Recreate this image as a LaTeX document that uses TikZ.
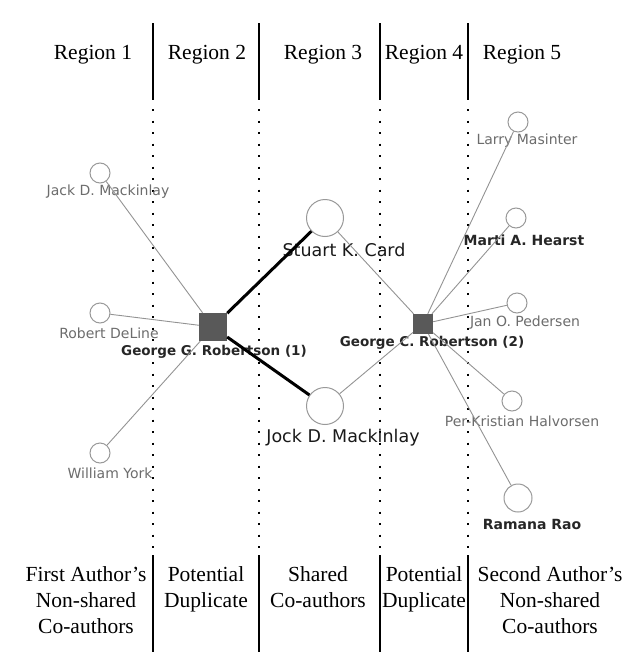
\documentclass[tikz,border=0pt]{standalone}
\usepackage{fontspec}
\setmainfont{Liberation Serif}
\setsansfont{DejaVu Sans}
\begin{document}
\begin{tikzpicture}[x=1pt, y=-1pt,
    region/.style={font=\fontsize{21.5}{26}\selectfont, align=center},
    author/.style={circle, draw=gray!80, fill=white, line width=1pt, inner sep=0pt},
    dupe/.style={rectangle, fill=black!65, inner sep=0pt},
    coname/.style={font=\sffamily\fontsize{14}{16}\selectfont, text=gray!85!black},
    boldname/.style={font=\sffamily\bfseries\fontsize{14}{16}\selectfont, text=black!85},
    dupename/.style={font=\sffamily\bfseries\fontsize{13.5}{16}\selectfont, text=black!85},
    bigname/.style={font=\sffamily\fontsize{17.5}{20}\selectfont, text=black!90},
    link/.style={gray!85, line width=0.9pt},
    shared/.style={black, line width=3pt},
    divider/.style={black, line width=2pt},
    dots/.style={black, line width=2pt, dash pattern=on 2pt off 9.5pt}]
    \useasboundingbox (0,0) rectangle (631,656);

    % Region labels on top
    \node[region] (reg1) at (93,55) {Region 1};
    \node[region] (reg2) at (207,55) {Region 2};
    \node[region] (reg3) at (323,55) {Region 3};
    \node[region] (reg4) at (424,55) {Region 4};
    \node[region] (reg5) at (522,55) {Region 5};

    % Region descriptions at the bottom
    \node[region, anchor=north] (desc1) at (86,563) {First Author's\\Non-shared\\Co-authors};
    \node[region, anchor=north] (desc2) at (206,563) {Potential\\Duplicate};
    \node[region, anchor=north] (desc3) at (318,563) {Shared\\Co-authors};
    \node[region, anchor=north] (desc4) at (424,563) {Potential\\Duplicate};
    \node[region, anchor=north] (desc5) at (550,563) {Second Author's\\Non-shared\\Co-authors};

    % Region separators
    \foreach \x in {153,259,380,468} {
        \draw[divider] (\x,23) -- (\x,100);
        \draw[dots] (\x,109) -- (\x,550);
        \draw[divider] (\x,555) -- (\x,652);
    }

    % Duplicate candidates
    \node[dupe, minimum size=28pt] (george1) at (213,327) {};
    \node[dupe, minimum size=20pt] (george2) at (423,324) {};
    \node[dupename] (george1L) at (214,352) {George G. Robertson (1)};
    \node[dupename] (george2L) at (432,343) {George C. Robertson (2)};

    % First author's co-authors
    \node[author, minimum size=20pt] (jack) at (100,173) {};
    \node[author, minimum size=20pt] (robert) at (100,313) {};
    \node[author, minimum size=20pt] (william) at (100,453) {};
    \node[coname] (jackL) at (108,192) {Jack D. Mackinlay};
    \node[coname] (robertL) at (109,333) {Robert DeLine};
    \node[coname] (williamL) at (110,473) {William York};

    % Shared co-authors
    \node[author, minimum size=37pt] (stuart) at (325,218) {};
    \node[author, minimum size=37pt] (jock) at (325,406) {};
    \node[bigname] (stuartL) at (344,250) {Stuart K. Card};
    \node[bigname] (jockL) at (343,438) {Jock D. Mackinlay};

    % Second author's co-authors
    \node[author, minimum size=20pt] (larry) at (518,122) {};
    \node[author, minimum size=20pt] (marti) at (516,218) {};
    \node[author, minimum size=20pt] (jan) at (517,303) {};
    \node[author, minimum size=20pt] (per) at (512,401) {};
    \node[author, minimum size=28pt] (ramana) at (518,498) {};
    \node[coname] (larryL) at (527,141) {Larry Masinter};
    \node[boldname] (martiL) at (524,240) {Marti A. Hearst};
    \node[coname] (janL) at (525,323) {Jan O. Pedersen};
    \node[coname] (perL) at (522,421) {Per-Kristian Halvorsen};
    \node[boldname] (ramanaL) at (532,524) {Ramana Rao};

    % Co-author links
    \draw[link] (george1) -- (jack);
    \draw[link] (george1) -- (robert);
    \draw[link] (george1) -- (william);
    \draw[shared] (george1) -- (stuart);
    \draw[shared] (george1) -- (jock);
    \draw[link] (george2) -- (stuart);
    \draw[link] (george2) -- (jock);
    \draw[link] (george2) -- (larry);
    \draw[link] (george2) -- (marti);
    \draw[link] (george2) -- (jan);
    \draw[link] (george2) -- (per);
    \draw[link] (george2) -- (ramana);
\end{tikzpicture}
\end{document}
